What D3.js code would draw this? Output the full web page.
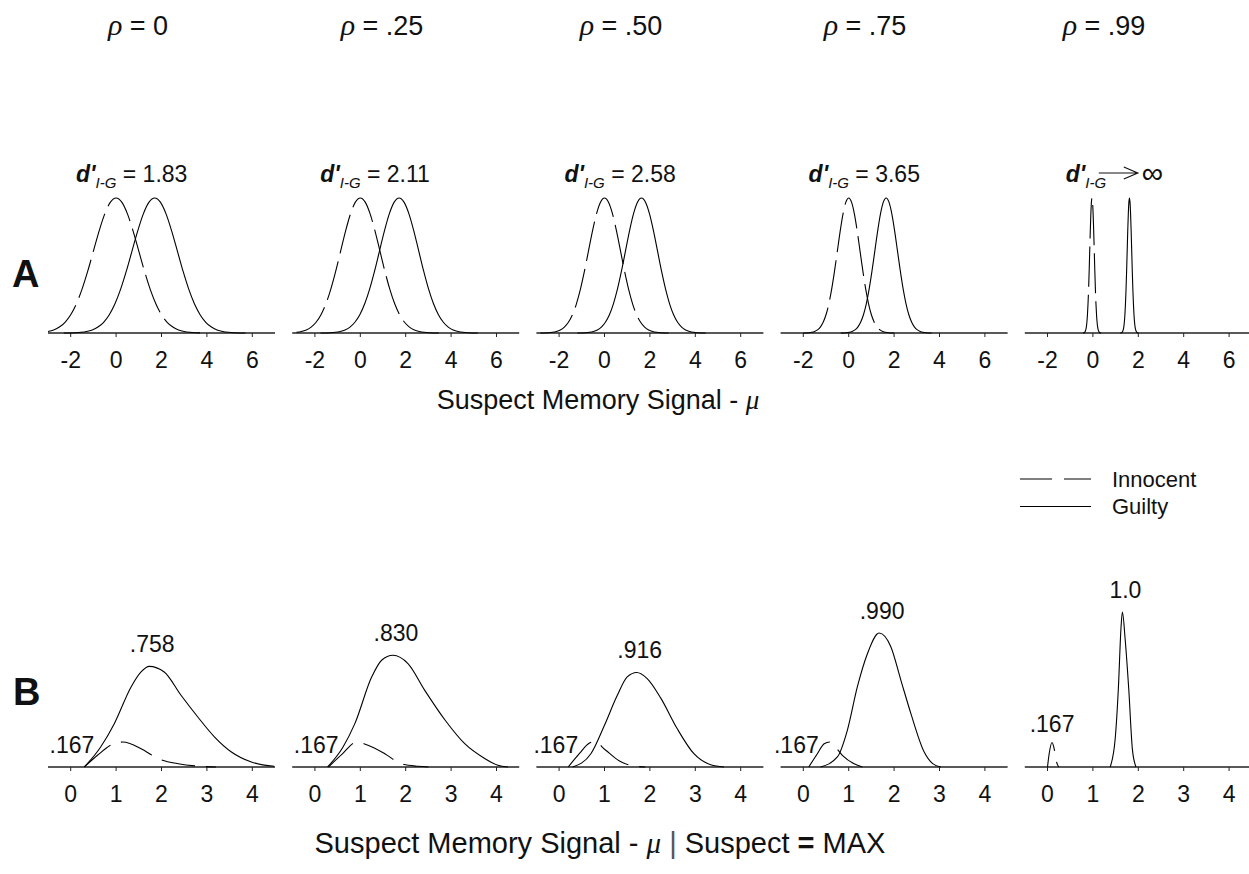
<!DOCTYPE html>
<html><head><meta charset="utf-8">
<script src="https://cdn.jsdelivr.net/npm/d3@7"></script>
<style>
body{margin:0;background:#fff}
svg{display:block}
text{font-family:"Liberation Sans",Arial,sans-serif;fill:#111}
</style>
</head><body>
<svg id="chart" width="1249" height="874"></svg>
<script>
// ---------- data ----------
const rhoLabels = ["0", ".25", ".50", ".75", ".99"];
const dPrimeLabels = ["1.83", "2.11", "2.58", "3.65", "∞"];
const innocentMeans = [0, 0, 0, 0, -0.04];
const guiltyMeans = [1.70, 1.71, 1.63, 1.65, 1.61];
const spreads = [1, 0.866, 0.707, 0.5, 0.1];
const normalZ =     [-4, -3.5, -3.25, -3, -2.75, -2.5, -2.25, -2, -1.75, -1.5, -1.25, -1, -0.75, -0.5, -0.25, 0, 0.25, 0.5, 0.75, 1, 1.25, 1.5, 1.75, 2, 2.25, 2.5, 2.75, 3, 3.25, 3.5, 4];
const normalShape = [0.0003, 0.0022, 0.0051, 0.0111, 0.0228, 0.0439, 0.0796, 0.1353, 0.2163, 0.3247, 0.4578, 0.6065, 0.7548, 0.8825, 0.9692, 1, 0.9692, 0.8825, 0.7548, 0.6065, 0.4578, 0.3247, 0.2163, 0.1353, 0.0796, 0.0439, 0.0228, 0.0111, 0.0051, 0.0022, 0.0003];
const aTicks = [-2, 0, 2, 4, 6];
const bTicks = [0, 1, 2, 3, 4];
const guiltyMaxLabels = [".758", ".830", ".916", ".990", "1.0"];
const innocentMaxLabels = [".167", ".167", ".167", ".167", ".167"];
// Panel B curves: [signal, relative density]
const bGuilty = [
  [[0.3,0],[0.66,0.118],[0.96,0.255],[1.33,0.471],[1.55,0.559],[1.73,0.592],[2.06,0.559],[2.43,0.422],[2.8,0.294],[3.17,0.176],[3.54,0.088],[3.98,0.029],[4.48,0.004]],
  [[0.28,0],[0.62,0.118],[0.88,0.255],[1.25,0.529],[1.47,0.628],[1.72,0.657],[2.05,0.608],[2.42,0.451],[2.87,0.275],[3.3,0.137],[3.74,0.05],[4.03,0.01],[4.25,0]],
  [[0.3,0],[0.7,0.078],[0.99,0.24],[1.28,0.42],[1.5,0.53],[1.71,0.556],[1.94,0.52],[2.24,0.405],[2.6,0.226],[2.97,0.078],[3.34,0.013],[3.63,0]],
  [[0.38,0],[0.75,0.059],[0.97,0.216],[1.19,0.471],[1.41,0.665],[1.67,0.788],[1.93,0.706],[2.15,0.51],[2.37,0.314],[2.66,0.09],[2.85,0.02],[3.03,0]],
  [[1.38,0],[1.49,0.163],[1.56,0.457],[1.62,0.824],[1.65,0.912],[1.71,0.753],[1.79,0.457],[1.87,0.104],[1.95,0]]
];
const bInnocent = [
  [[0.3,0],[0.59,0.069],[0.92,0.134],[1.15,0.147],[1.55,0.108],[1.93,0.049],[2.37,0.019],[2.87,0.004],[3.2,0]],
  [[0.3,0],[0.6,0.076],[0.92,0.147],[1.17,0.128],[1.54,0.078],[1.9,0.019],[2.27,0.004],[2.5,0]],
  [[0.2,0],[0.45,0.08],[0.66,0.14],[0.78,0.15],[1.02,0.1],[1.33,0.035],[1.7,0.004],[1.9,0]],
  [[0.12,0],[0.31,0.078],[0.46,0.137],[0.58,0.147],[0.67,0.128],[0.86,0.069],[1.12,0.019],[1.3,0]],
  [[0,0],[0.04,0.084],[0.1,0.144],[0.15,0.104],[0.2,0.029],[0.25,0]]
];

// ---------- layout ----------
const svg = d3.select("#chart");
const panelLeft = i => 48 + 244.2 * i;
const panelW = 227;
const rhoCenters = [138, 382, 621, 865, 1104];

function drawAxis(g, x, baseY, ticks) {
  const [r0, r1] = x.range();
  g.append("line").attr("x1", r0).attr("x2", r1).attr("y1", baseY).attr("y2", baseY)
    .attr("stroke", "#222").attr("stroke-width", 1.5);
  g.selectAll(null).data(ticks).join("line")
    .attr("x1", d => x(d)).attr("x2", d => x(d))
    .attr("y1", baseY).attr("y2", baseY + 4)
    .attr("stroke", "#222").attr("stroke-width", 1);
  g.selectAll(null).data(ticks).join("text")
    .attr("x", d => x(d)).attr("y", baseY + 35)
    .attr("text-anchor", "middle").style("font-size", "23px")
    .text(d => d < 0 ? "-" + Math.abs(d) : d);
}

// ---------- rho labels ----------
rhoLabels.forEach((r, i) => {
  const t = svg.append("text").attr("x", rhoCenters[i]).attr("y", 35)
    .attr("text-anchor", "middle").style("font-size", "27px");
  t.append("tspan").text("ρ").style("font-family", "'Liberation Serif',serif").style("font-style", "italic").style("font-size", "30px");
  t.append("tspan").text(" = " + r);
});

// ---------- Panel A ----------
const aBase = 333, aTop = 198;
const line = d3.line().curve(d3.curveMonotoneX);
for (let i = 0; i < 5; i++) {
  const g = svg.append("g");
  const x = d3.scaleLinear().domain([-3, 7]).range([panelLeft(i), panelLeft(i) + panelW]);
  const y = d3.scaleLinear().domain([0, 1]).range([aBase, aTop]);
  drawAxis(g, x, aBase, aTicks);
  const mk = m => normalZ.map((z, k) => [m + spreads[i] * z, normalShape[k]])
    .filter(p => p[0] >= -3 && p[0] <= 7).map(p => [x(p[0]), y(p[1])]);
  g.append("path").attr("d", line(mk(innocentMeans[i]))).attr("fill", "none")
    .attr("stroke", "#000").attr("stroke-width", 1.1).attr("stroke-dasharray", "40,8");
  g.append("path").attr("d", line(mk(guiltyMeans[i]))).attr("fill", "none")
    .attr("stroke", "#000").attr("stroke-width", 1.1);

  // d' label
  const lx = i < 4 ? panelLeft(i) + 28 : panelLeft(i) + 41;
  const t = g.append("text").attr("x", lx).attr("y", 182).style("font-size", "23px");
  t.append("tspan").text("d'").style("font-style", "italic").style("font-weight", "bold");
  t.append("tspan").text("I-G").style("font-style", "italic").style("font-size", "15px").attr("dy", 6);
  if (i < 4) {
    t.append("tspan").text(" = " + dPrimeLabels[i]).attr("dy", -6);
  } else {
    g.append("path").attr("d", `M${lx + 33},173 L${lx + 72},173 M${lx + 58},167 L${lx + 72},173 L${lx + 58},179`)
      .attr("fill", "none").attr("stroke", "#111").attr("stroke-width", 1.2);
    g.append("text").attr("x", lx + 76).attr("y", 183).style("font-size", "30px").text(dPrimeLabels[i]);
  }
}
svg.append("text").attr("x", 12).attr("y", 287).style("font-size", "38px").style("font-weight", "bold").text("A");
{
  const t = svg.append("text").attr("x", 598).attr("y", 409).attr("text-anchor", "middle").style("font-size", "27px");
  t.append("tspan").text("Suspect Memory Signal - ");
  t.append("tspan").text("μ").style("font-family", "'Liberation Serif',serif").style("font-style", "italic");
}

// ---------- Legend ----------
svg.append("line").attr("x1", 1020).attr("x2", 1091).attr("y1", 479).attr("y2", 479)
  .attr("stroke", "#000").attr("stroke-width", 1.1).attr("stroke-dasharray", "32,12");
svg.append("line").attr("x1", 1020).attr("x2", 1091).attr("y1", 506.5).attr("y2", 506.5)
  .attr("stroke", "#000").attr("stroke-width", 1.1);
svg.append("text").attr("x", 1112).attr("y", 487).style("font-size", "22px").text("Innocent");
svg.append("text").attr("x", 1112).attr("y", 514).style("font-size", "22px").text("Guilty");

// ---------- Panel B ----------
const bBase = 767, bTop = 597;
for (let i = 0; i < 5; i++) {
  const g = svg.append("g");
  const x = d3.scaleLinear().domain([-0.5, 4.5]).range([panelLeft(i), panelLeft(i) + panelW]);
  const y = d3.scaleLinear().domain([0, 1]).range([bBase, bTop]);
  drawAxis(g, x, bBase, bTicks);
  const toPx = arr => arr.map(p => [x(p[0]), y(p[1])]);
  g.append("path").attr("d", line(toPx(bInnocent[i]))).attr("fill", "none")
    .attr("stroke", "#000").attr("stroke-width", 1.1).attr("stroke-dasharray", "34,11");
  g.append("path").attr("d", line(toPx(bGuilty[i]))).attr("fill", "none")
    .attr("stroke", "#000").attr("stroke-width", 1.1);
  const gp = bGuilty[i].reduce((a, b) => b[1] > a[1] ? b : a);
  g.append("text").attr("x", x(gp[0]) + 3).attr("y", y(gp[1]) - 14)
    .attr("text-anchor", "middle").style("font-size", "23px").text(guiltyMaxLabels[i]);
  const ip = bInnocent[i].reduce((a, b) => b[1] > a[1] ? b : a);
  if (i < 4) {
    g.append("text").attr("x", x(bInnocent[i][0][0]) + 10).attr("y", 753)
      .attr("text-anchor", "end").style("font-size", "23px").text(innocentMaxLabels[i]);
  } else {
    g.append("text").attr("x", x(ip[0])).attr("y", y(ip[1]) - 11)
      .attr("text-anchor", "middle").style("font-size", "23px").text(innocentMaxLabels[i]);
  }
}
svg.append("text").attr("x", 13).attr("y", 705).style("font-size", "38px").style("font-weight", "bold").text("B");
{
  const t = svg.append("text").attr("x", 600).attr("y", 853).attr("text-anchor", "middle").style("font-size", "29px");
  t.append("tspan").text("Suspect Memory Signal - ");
  t.append("tspan").text("μ").style("font-family", "'Liberation Serif',serif").style("font-style", "italic");
  t.append("tspan").text(" | ").style("fill", "#555");
  t.append("tspan").text("Suspect ");
  t.append("tspan").text("=").style("font-weight", "bold");
  t.append("tspan").text(" MAX");
}
</script>
</body></html>
